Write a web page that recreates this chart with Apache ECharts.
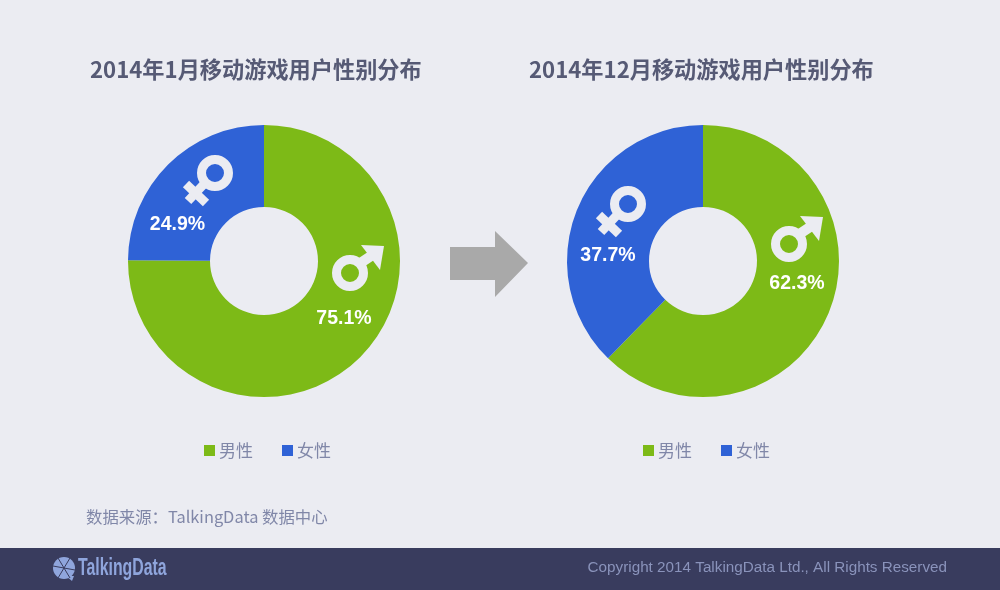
<!DOCTYPE html>
<html>
<head>
<meta charset="utf-8">
<style>html,body{margin:0;padding:0;background:#ebecf2}#main{width:1000px;height:590px}</style>
<script src="https://cdn.jsdelivr.net/npm/echarts@6/dist/echarts.min.js"></script>
</head>
<body>
<div id="main"></div>
<script>
// 数据
var genders = ['男性', '女性'];
var jan2014 = [75.1, 24.9];
var dec2014 = [62.3, 37.7];
var titles = ['2014年1月移动游戏用户性别分布', '2014年12月移动游戏用户性别分布'];
var sourceText = '数据来源：TalkingData 数据中心';
var copyrightText = 'Copyright 2014 TalkingData Ltd., All Rights Reserved';

var colors = ['#7dba17', '#2f62d6'];
var cjk = '"Noto Sans CJK SC", sans-serif';
var latin = '"Liberation Sans", Arial, sans-serif';
var chart = echarts.init(document.getElementById('main'), null, { renderer: 'canvas' });

function makePie(values, cx, labelPos) {
    return {
        type: 'pie',
        center: [cx, 261],
        radius: [54, 136],
        startAngle: 90,
        silent: true,
        animation: false,
        label: {
            position: 'inside',
            formatter: '{c}%',
            color: '#fff',
            fontFamily: latin,
            fontWeight: 'bold',
            fontSize: 19.5
        },
        labelLine: { show: false },
        labelLayout: function (p) {
            return { x: labelPos[p.dataIndex][0], y: labelPos[p.dataIndex][1], align: 'center', verticalAlign: 'middle' };
        },
        data: genders.map(function (g, i) {
            return { name: g, value: values[i], itemStyle: { color: colors[i] } };
        })
    };
}

function makeLegend(left) {
    return {
        left: left,
        top: 442,
        padding: 0,
        itemWidth: 11,
        itemHeight: 11,
        itemGap: 29,
        icon: 'rect',
        selectedMode: false,
        textStyle: { fontFamily: cjk, fontSize: 17, color: '#8087a8', padding: [0, 0, 0, -1] },
        data: genders
    };
}

function femaleIcon(x, y) {
    var c = '#ebecf2';
    return {
        type: 'group', x: x, y: y, silent: true,
        children: [
            { type: 'circle', z: 20, shape: { cx: 0, cy: 0, r: 13.5 }, style: { fill: 'none', stroke: c, lineWidth: 9 } },
            { type: 'line', z: 20, shape: { x1: -10, y1: 10, x2: -27, y2: 28 }, style: { stroke: c, lineWidth: 9 } },
            { type: 'line', z: 20, shape: { x1: -29, y1: 11, x2: -9, y2: 30 }, style: { stroke: c, lineWidth: 9 } }
        ]
    };
}

function maleIcon(x, y) {
    var c = '#ebecf2';
    return {
        type: 'group', x: x, y: y, silent: true,
        children: [
            { type: 'circle', z: 20, shape: { cx: 0, cy: 0, r: 13.5 }, style: { fill: 'none', stroke: c, lineWidth: 9 } },
            { type: 'line', z: 20, shape: { x1: 9, y1: -9, x2: 24, y2: -19 }, style: { stroke: c, lineWidth: 10 } },
            { type: 'polygon', z: 20, shape: { points: [[11, -28], [34, -27], [30, -3]] }, style: { fill: c } }
        ]
    };
}

var option = {
    backgroundColor: '#ebecf2',
    animation: false,
    title: [
        { text: titles[0], left: 90, top: 58, padding: 0, textStyle: { fontFamily: cjk, fontSize: 22.2, fontWeight: 'bold', color: '#565a75' } },
        { text: titles[1], left: 529, top: 58, padding: 0, textStyle: { fontFamily: cjk, fontSize: 22.2, fontWeight: 'bold', color: '#565a75' } }
    ],
    legend: [makeLegend(204), makeLegend(643)],
    series: [
        makePie(jan2014, 264, [[344, 319], [177.5, 225]]),
        makePie(dec2014, 703, [[797, 284], [608, 256]])
    ],
    graphic: [
        { type: 'polygon', silent: true, shape: { points: [[450, 247], [495, 247], [495, 231], [528, 263], [495, 297], [495, 280], [450, 280]] }, style: { fill: '#a9a9a9' } },
        femaleIcon(215, 173),
        femaleIcon(628, 204),
        maleIcon(350, 273),
        maleIcon(789, 244),
        { type: 'text', silent: true, x: 86, y: 517, style: { text: sourceText, fontFamily: cjk, fontSize: 16.4, fill: '#8087a8', verticalAlign: 'middle' } },
        { type: 'rect', silent: true, shape: { x: 0, y: 548, width: 1000, height: 42 }, style: { fill: '#393c5e' } },
        // logo
        { type: 'circle', silent: true, shape: { cx: 64, cy: 568, r: 11 }, style: { fill: '#8fa5dc' } },
        { type: 'polygon', silent: true, shape: { points: [[66, 576], [74, 576], [72, 581]] }, style: { fill: '#8fa5dc' } },
        { type: 'line', silent: true, shape: { x1: 53, y1: 566, x2: 75, y2: 570 }, style: { stroke: '#393c5e', lineWidth: 1 } },
        { type: 'line', silent: true, shape: { x1: 58, y1: 558, x2: 70, y2: 578 }, style: { stroke: '#393c5e', lineWidth: 1 } },
        { type: 'line', silent: true, shape: { x1: 70, y1: 558, x2: 58, y2: 578 }, style: { stroke: '#393c5e', lineWidth: 1 } },
        { type: 'text', silent: true, x: 78, y: 568, scaleX: 0.66, style: { text: 'TalkingData', fontFamily: latin, fontWeight: 'bold', fontSize: 24, fill: '#8fa5dc', verticalAlign: 'middle' } },
        { type: 'text', silent: true, x: 947, y: 568, style: { text: copyrightText, fontFamily: latin, fontSize: 15.25, fill: '#8a93bb', align: 'right', verticalAlign: 'middle' } }
    ]
};
chart.setOption(option);
</script>
</body>
</html>
